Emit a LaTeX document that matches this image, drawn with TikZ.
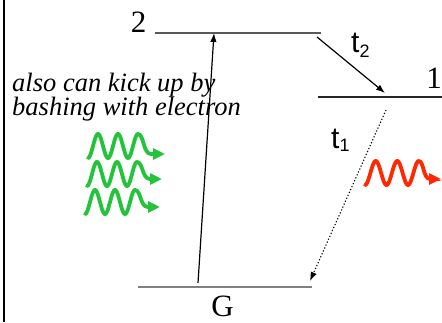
\documentclass[tikz,border=0pt]{standalone}
\usepackage{fontspec}
\setmainfont{Liberation Serif}
\newfontfamily\sansf{Liberation Sans}
\newfontfamily\serit{Liberation Serif Italic}
\usetikzlibrary{arrows.meta}
\definecolor{wgreen}{RGB}{35,195,60}
\definecolor{wred}{RGB}{255,40,0}
\definecolor{lvlgray}{RGB}{90,90,90}
\begin{document}
\begin{tikzpicture}[x=1pt,y=-1pt,
  level/.style={draw=lvlgray,line width=1.3pt},
  lbl/.style={inner sep=0pt,anchor=base,font=\fontsize{31}{31}\selectfont},
  tlbl/.style={inner sep=0pt,anchor=base west,font=\sansf\fontsize{30}{30}\selectfont},
  itxt/.style={inner sep=0pt,anchor=base west,font=\serit\fontsize{26.5}{24}\selectfont},
  trans/.style={line width=1.2pt,-{Latex[length=9pt,width=6.5pt]}},
  wave/.style={line width=3.8pt,line cap=round,-{Triangle[length=12pt,width=11pt]}},
]
\useasboundingbox (0,0) rectangle (442,322);
% left border
\coordinate (bt) at (4,0);
\coordinate (bb) at (4,322);
\draw[line width=1.8pt] (bt) -- (bb);
% levels
\coordinate (L2a) at (155,33);
\coordinate (L2b) at (321,33);
\coordinate (L1a) at (318,97);
\coordinate (L1b) at (442,97);
\coordinate (LGa) at (138,287);
\coordinate (LGb) at (312,287);
\draw[level] (L2a) -- (L2b);
\draw[level,draw=black!85] (L1a) -- (L1b);
\draw[level,draw=gray] (LGa) -- (LGb);
% level labels
\node[lbl] (n2) at (138.5,32) {2};
\node[lbl] (n1) at (434,88) {1};
\node[lbl] (nG) at (222.5,316) {G};
% transitions
\coordinate (upS) at (198,283);
\coordinate (upE) at (214,33);
\draw[trans] (upS) -- (upE);
\coordinate (t2S) at (317,37);
\coordinate (t2E) at (385,93);
\draw[trans] (t2S) -- (t2E);
\coordinate (t1S) at (386,110);
\coordinate (t1E) at (310,281);
\draw[trans,dotted,line width=1.1pt] (t1S) -- (t1E);
\node[tlbl] (t2) at (351,52) {t\raisebox{-5pt}{\fontsize{18}{18}\selectfont 2}};
\node[tlbl] (t1) at (331,148) {t\raisebox{-3pt}{\fontsize{18}{18}\selectfont 1}};
% text
\node[itxt] (txtA) at (12,91) {also can kick up by};
\node[itxt] (txtB) at (12,115) {bashing with electron};
% green waves
\foreach \xo/\yc/\tx/\ty in {88/146/165/154, 87/174/162/179, 85/202/160/207} {
  \draw[wave,draw=wgreen]
    plot[domain=0:2.5,samples=80,smooth] ({\xo+20*\x},{\yc-12*sin(\x*360-90)})
    .. controls ({\xo+56},{\yc-12}) and ({\xo+55},{\ty}) .. ({\xo+63},{\ty})
    -- (\tx,\ty);
}
% red wave
\draw[wave,draw=wred]
  plot[domain=0:2.5,samples=80,smooth] ({365+21.5*\x},{173-12*sin(\x*360-90)})
  .. controls (424,161) and (423,179) .. (430,179) -- (441,179);
\end{tikzpicture}
\end{document}
